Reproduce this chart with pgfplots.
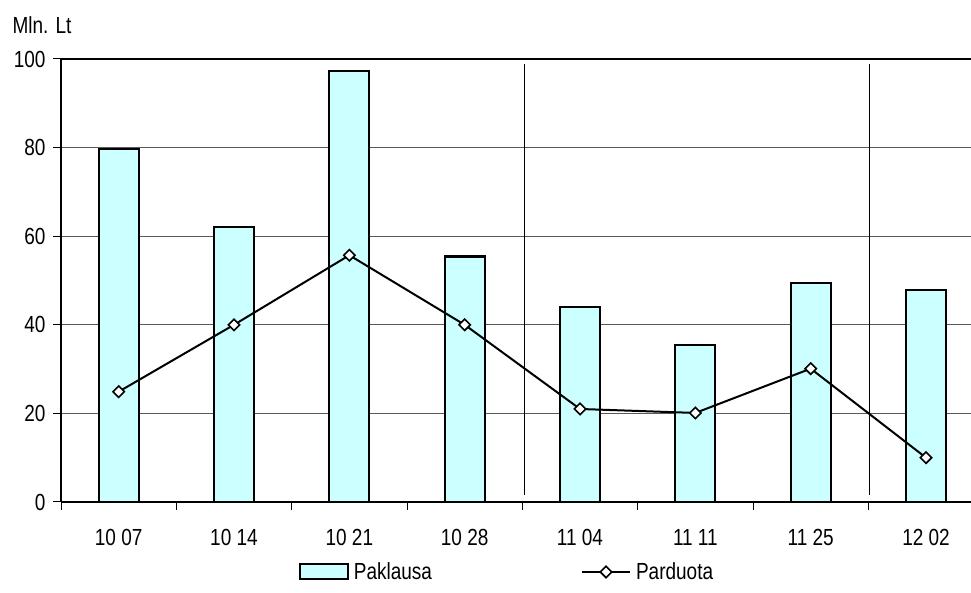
\documentclass[border=0pt]{standalone}
\usepackage{fontspec}
\setmainfont{Liberation Sans}[FakeStretch=0.815]
\usepackage{pgfplots}
\pgfplotsset{compat=1.18}
\definecolor{barfill}{HTML}{CCFFFF}
\newcommand{\chfont}{\fontsize{23.3}{27}\selectfont}
\pgfplotsset{
  mybar legend/.style={legend image code/.code={\draw[fill=barfill, draw=black, line width=2.2pt] (0pt,-7pt) rectangle (48pt,8pt);}},
  myline legend/.style={legend image code/.code={\draw[mark repeat=2,mark phase=2,##1] plot coordinates {(0pt,0pt) (24pt,0pt) (48pt,0pt)};}},
}
\begin{document}
\begin{tikzpicture}
\useasboundingbox (-61pt,-91pt) rectangle (910pt,502pt);
\begin{axis}[
  at={(0pt,0pt)}, anchor=south west,
  scale only axis, width=910pt, height=443pt,
  xmin=-0.5, xmax=7.39, ymin=0, ymax=100,
  axis x line*=box, axis y line*=left,
  axis line style={line width=2.2pt, black},
  xtick pos=left, ytick pos=left,
  tick align=outside,
  major tick length=8pt,
  tick style={black, line width=1pt},
  xtick={-0.5,0.5,1.5,2.5,3.5,4.5,5.5,6.5},
  xticklabels={},
  extra x ticks={0,1,2,3,4,5,6,7},
  extra x tick labels={10 07,10 14,10 21,10 28,11 04,11 11,11 25,12 02},
  extra x tick style={major tick length=0pt, xticklabel style={yshift=-24pt}},
  ytick={0,20,40,60,80,100},
  ymajorgrids,
  major grid style={gray!70!black, line width=0.9pt},
  ticklabel style={font=\chfont},
  yticklabel style={/pgf/number format/assume math mode=true, xshift=-4pt},
  legend style={at={(0.49,-0.158)}, anchor=center, draw=none, fill=none, font=\chfont,
    legend columns=2,
    /tikz/every odd column/.append style={column sep=3pt},
    /tikz/every even column/.append style={column sep=147pt}},
  legend cell align=left,
]
\addplot[ybar, bar width=40pt, fill=barfill, draw=black, line width=2.2pt, mybar legend]
  coordinates {(0,79.6) (1,62.0) (2,97.3) (3,55.4) (4,44.1) (5,35.4) (6,49.4) (7,47.9)};
\addlegendentry{Paklausa}
\addplot[black, line width=2pt, mark=square*, mark size=4pt,
  mark options={rotate=45, fill=white, line width=1.6pt, solid}, myline legend]
  coordinates {(0,24.9) (1,40.0) (2,55.7) (3,40.0) (4,21.0) (5,20.1) (6,30.1) (7,10.0)};
\addlegendentry{Parduota}
\addplot[black, line width=1.6pt, no marks, forget plot] coordinates {(3.52,1.6) (3.52,98.9)};
\addplot[black, line width=1.6pt, no marks, forget plot] coordinates {(6.51,1.6) (6.51,98.9)};
\end{axis}
\node[font=\chfont] at (-19pt,477pt) {Mln. Lt};
\end{tikzpicture}
\end{document}
